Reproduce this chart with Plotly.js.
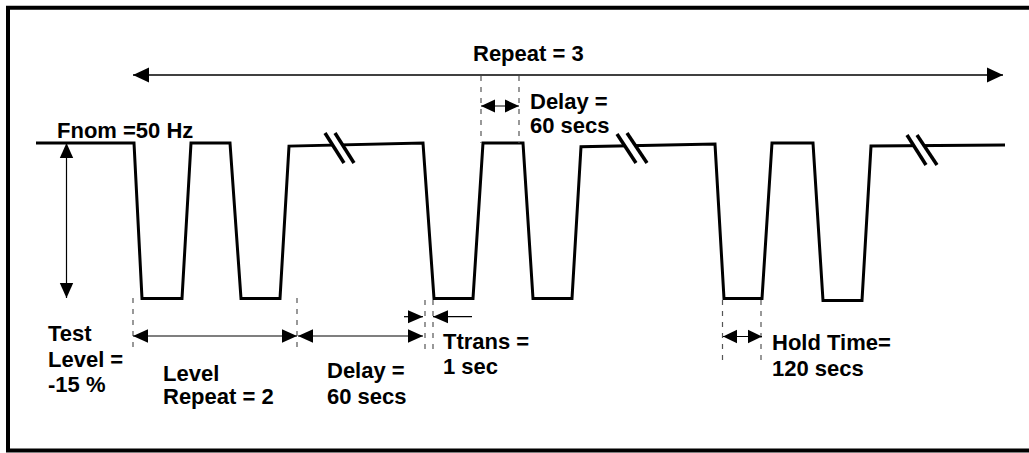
<!DOCTYPE html>
<html><head><meta charset="utf-8">
<script src="https://cdn.plot.ly/plotly-3.0.1.min.js"></script>
<style>html,body{margin:0;padding:0;background:#fff;} #chart{width:1029px;height:453px;}</style>
</head><body><div id="chart"></div>
<script>
// ---- Waveform data: time along the diagram (arbitrary units) and frequency deviation (% of Fnom)
const cycle1Time  = [36, 134, 142, 182, 191, 230, 241, 280, 289, 423];
const cycle1Level = [0, 0, -15, -15, 0, 0, -15, -15, -0.3, 0];
const cycle2Time  = [434, 473, 483, 523, 533, 572, 581, 715];
const cycle2Level = [-15, -15, 0, 0, -15, -15, -0.35, -0.1];
const cycle3Time  = [724, 762, 772, 813, 823, 862, 871, 1005];
const cycle3Level = [-15, -15, 0, 0, -15.2, -15.2, -0.3, -0.2];

// ---- Label texts
const titleRepeat   = ['Repeat = 3'];
const fnomLabel     = ['Fnom =50 Hz'];
const delayTopLabel = ['Delay =', '60 secs'];
const testLabel     = ['Test', 'Level =', '-15 %'];
const levelRepLabel = ['Level', 'Repeat = 2'];
const delayBotLabel = ['Delay =', '60 secs'];
const ttransLabel   = ['Ttrans =', '1 sec'];
const holdLabel     = ['Hold Time=', '120 secs'];

const W = 1029, H = 453;
const X = px => px / W;
const Y = py => 1 - py / H;
const FONT = {family: 'Liberation Sans, Arial, sans-serif', size: 22, color: '#000'};

const timeAll  = cycle1Time.concat(cycle2Time, cycle3Time);
const levelAll = cycle1Level.concat(cycle2Level, cycle3Level);

const shapes = [];
function seg(x0, y0, x1, y1, w, color, dash) {
  shapes.push({type: 'line', xref: 'paper', yref: 'paper', layer: 'above',
    x0: X(x0), y0: Y(y0), x1: X(x1), y1: Y(y1),
    line: {color: color || '#000', width: w || 1, dash: dash || 'solid'}});
}
function poly(pts, fill) {
  const d = pts.map((p, i) => (i ? 'L' : 'M') + X(p[0]) + ',' + Y(p[1])).join(' ') + ' Z';
  shapes.push({type: 'path', xref: 'paper', yref: 'paper', layer: 'above', path: d,
    fillcolor: fill || '#000', line: {width: 0}});
}
function head(tx, ty, dir, len, hw) {
  len = len || 15; hw = hw || 7;
  if (dir === 'r') poly([[tx, ty], [tx - len, ty - hw], [tx - len, ty + hw]]);
  if (dir === 'l') poly([[tx, ty], [tx + len, ty - hw], [tx + len, ty + hw]]);
  if (dir === 'u') poly([[tx, ty], [tx - hw, ty + len], [tx + hw, ty + len]]);
  if (dir === 'd') poly([[tx, ty], [tx - hw, ty - len], [tx + hw, ty - len]]);
}
function dbl(x0, x1, y, len, hw, w) {
  seg(x0, y, x1, y, w || 1.2);
  head(x0, y, 'l', len, hw); head(x1, y, 'r', len, hw);
}
function dashV(x, y0, y1) { seg(x, y0, x, y1, 1.2, '#555', '5px,6px'); }
function brk(a, b) {
  // mask + two slashes
  poly([a[0], a[1], b[1], b[0]], '#fff');
  seg(a[0][0], a[0][1], a[1][0], a[1][1], 3.5);
  seg(b[0][0], b[0][1], b[1][0], b[1][1], 3.5);
}

// frame
shapes.push({type: 'rect', xref: 'paper', yref: 'paper', layer: 'above',
  x0: X(8), y0: Y(450.5), x1: X(1045), y1: Y(7.7), line: {color: '#000', width: 4}});

// dashed guides
dashV(133, 298, 352); dashV(297, 298, 352);
dashV(425, 300, 353); dashV(433, 300, 353);
dashV(481, 76, 143); dashV(519, 76, 143);
dashV(722.5, 300, 363); dashV(761, 300, 363);

// breaks
brk([[325, 133], [344, 163]], [[335, 133], [354, 163]]);
brk([[617, 134], [636, 163]], [[627, 133], [647, 163]]);
brk([[907, 135], [926, 165]], [[917, 135], [937, 165]]);

// arrows
dbl(133, 1003, 75, 16, 7.5, 1.3);           // Repeat = 3
seg(66.5, 143, 66.5, 298, 1.2); head(66.5, 143, 'u', 15, 6.7); head(66.5, 298, 'd', 15, 6.7);
dbl(133, 297, 336, 15, 6.7);               // Level repeat
dbl(298, 423, 336, 15, 6.7);               // Delay bottom
seg(404, 316.7, 423, 316.7, 1.2); head(423, 316.7, 'r', 15, 6.5);   // Ttrans
seg(472, 316.7, 433, 316.7, 1.2); head(433, 316.7, 'l', 15, 6.5);
dbl(481, 519, 106, 14, 6.5);               // Delay top
dbl(723, 762, 336.5, 14, 6.8);             // Hold time

// annotations
const annotations = [];
function txt(s, x, y, xa) {
  annotations.push({text: '<b>' + s + '</b>', xref: 'paper', yref: 'paper',
    x: X(x), y: Y(y), xanchor: xa || 'left', yanchor: 'middle', showarrow: false,
    font: FONT, borderpad: 0});
}
function block(lines, x, ys) { lines.forEach((s, i) => txt(s, x, ys[i])); }
txt(titleRepeat[0], 528, 53, 'center');
block(fnomLabel, 56, [130.5]);
block(delayTopLabel, 529, [101, 126]);
block(testLabel, 47, [333, 359.5, 384.5]);
block(levelRepLabel, 162, [373, 396.5]);
block(delayBotLabel, 326, [370.5, 396.5]);
block(ttransLabel, 442, [341.5, 366.5]);
block(holdLabel, 771, [342, 368.5]);

// level axis mapping: 0 % at y=143 px, -15 % at y=298.5 px
const k = (298.5 - 143) / 15;
const yTop = 143 / k, yBot = -(H - 143) / k;

const trace = {x: timeAll, y: levelAll, type: 'scatter', mode: 'lines',
  line: {color: '#000', width: 3}, hoverinfo: 'skip'};

Plotly.newPlot('chart', [trace], {
  width: W, height: H, margin: {l: 0, r: 0, t: 0, b: 0, pad: 0},
  paper_bgcolor: '#fff', plot_bgcolor: '#fff', showlegend: false,
  xaxis: {range: [0, W], visible: false, fixedrange: true},
  yaxis: {range: [yBot, yTop], visible: false, fixedrange: true},
  shapes: shapes, annotations: annotations
}, {displayModeBar: false, staticPlot: true});
</script></body></html>
